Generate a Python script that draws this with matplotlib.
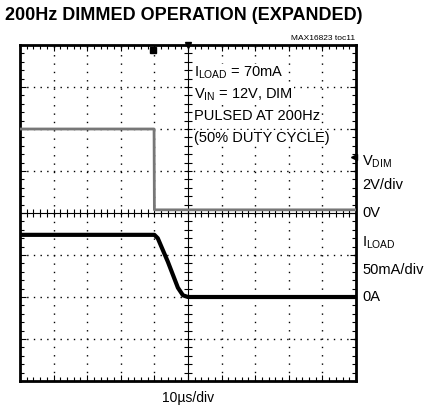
import numpy as np
import matplotlib.pyplot as plt
from matplotlib.ticker import MultipleLocator

# scope settings
time_per_div = 10.0      # us/div
vdim_per_div = 2.0       # V/div
iload_per_div = 50.0     # mA/div
vdim_zero_div = 0.0      # 0V reference (divisions from center)
iload_zero_div = -2.0    # 0A reference

# V_DIM trace (us, V)
vdim_t = [0, 39.9, 40.0, 100]
vdim_v = [4.0, 4.0, 0.15, 0.15]

# I_LOAD trace (us, mA)
iload_t = [0, 40, 41, 44, 47, 48.5, 50, 100]
iload_i = [74, 74, 70, 42, 11, 2, 0, 0]

plt.rcParams['font.family'] = ['Liberation Sans Narrow', 'Liberation Sans', 'DejaVu Sans']

fig = plt.figure(figsize=(4.25, 4.12), dpi=100)
ax = fig.add_axes([20 / 425, 31 / 412, 336 / 425, 336 / 412])

ax.set_xlim(0, 10)
ax.set_ylim(-4, 4)

# graticule
for x in range(1, 10):
    if x != 5:
        ax.axvline(x, color='black', lw=1, ls=(0, (1, 5.0)), zorder=1)
for y in range(-3, 4):
    if y != 0:
        ax.axhline(y, color='black', lw=1, ls=(0, (1, 3.8)), zorder=1)

# center crosshair with minor ticks
ax.axvline(5, color='black', lw=0.8, zorder=1)
ax.axhline(0, color='black', lw=0.8, zorder=1)
ax.plot(np.full(39, 5.0), np.arange(-3.8, 4.0, 0.2)[:39], marker='_', ms=6,
        mew=0.8, ls='none', color='black', zorder=1)
ax.plot(np.arange(0.2, 10.0, 0.2), np.zeros(49), marker='|', ms=6,
        mew=0.8, ls='none', color='black', zorder=1)

# traces
vdim_y = np.array(vdim_v) / vdim_per_div + vdim_zero_div
iload_y = np.array(iload_i) / iload_per_div + iload_zero_div
tx = np.array(vdim_t) / time_per_div
ix = np.array(iload_t) / time_per_div
ax.plot(tx, vdim_y, color='#777777', lw=2.0, zorder=3)
ax.plot(ix, iload_y, color='black', lw=3.0, zorder=4)

# markers
ax.plot(3.97, 3.87, marker='s', ms=4, color='black', clip_on=False, zorder=5)
ax.plot(5, 4.0, marker='v', ms=5, color='black', clip_on=False, zorder=5)
ax.plot(9.95, 1.33, marker='<', ms=4, color='black', clip_on=False, zorder=5)

# frame and ticks
for s in ax.spines.values():
    s.set_linewidth(2)
ax.xaxis.set_major_locator(MultipleLocator(1))
ax.xaxis.set_minor_locator(MultipleLocator(0.2))
ax.yaxis.set_major_locator(MultipleLocator(1))
ax.yaxis.set_minor_locator(MultipleLocator(0.2))
ax.tick_params(which='both', direction='in', top=True, right=True,
               labelbottom=False, labelleft=False)
ax.tick_params(which='major', length=4, width=0.8)
ax.tick_params(which='minor', length=3, width=0.8)

# text
fig.text(5 / 425, 1 - 16 / 412, '200Hz DIMMED OPERATION (EXPANDED)',
         fontsize=13, fontweight='bold', va='center', ha='left')
fig.text(355 / 425, 1 - 38 / 412, 'MAX16823 toc11', fontsize=6,
         ha='right', va='center')
fig.text(188 / 425, 1 - 398 / 412, '10\u00b5s/div', fontsize=10,
         ha='center', va='center')

inside = ['$\\mathregular{I_{LOAD}}$ = 70mA',
          '$\\mathregular{V_{IN}}$ = 12V, DIM',
          'PULSED AT 200Hz',
          '(50% DUTY CYCLE)']
for k, s in enumerate(inside):
    ax.text(5.18, 3.33 - k * 0.515, s, fontsize=10.5, va='center', ha='left',
            zorder=6, bbox=dict(facecolor='white', edgecolor='none', pad=0.5))

right = [('$\\mathregular{V_{DIM}}$', 1.21),
         ('2V/div', 0.67),
         ('0V', 0.0),
         ('$\\mathregular{I_{LOAD}}$', -0.71),
         ('50mA/div', -1.36),
         ('0A', -2.0)]
for s, y in right:
    ax.text(10.18, y, s, fontsize=10.5, va='center', ha='left', clip_on=False)

fig.savefig('out.png', dpi=100)
